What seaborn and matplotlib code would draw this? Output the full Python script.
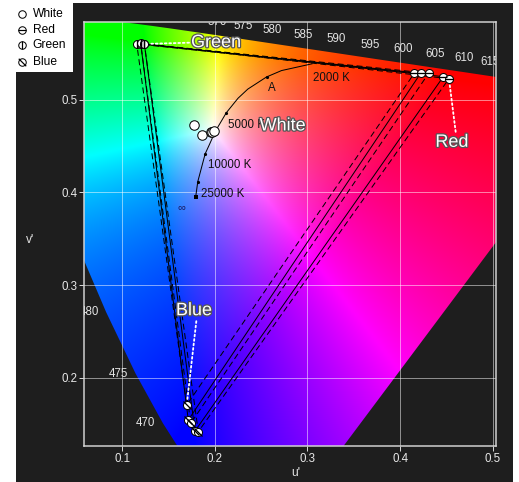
import numpy as np
import matplotlib
matplotlib.use("Agg")
import matplotlib.pyplot as plt
import seaborn as sns
from matplotlib.patches import Polygon, Rectangle
from matplotlib.lines import Line2D
from matplotlib.path import Path
import matplotlib.patheffects as pe

# ---------------- data ----------------
# CIE 1931 spectral locus (x, y chromaticity)
locus_nm = [380, 400, 420, 440, 450, 460, 465, 470, 475, 480, 485, 490, 495, 500,
            505, 510, 515, 520, 525, 530, 535, 540, 545, 550, 555, 560, 565, 570,
            575, 580, 585, 590, 595, 600, 605, 610, 615, 620, 630, 640, 650, 700]
locus_x = [0.1741, 0.1733, 0.1714, 0.1644, 0.1566, 0.1440, 0.1355, 0.1241, 0.1096,
           0.0913, 0.0687, 0.0454, 0.0235, 0.0082, 0.0039, 0.0139, 0.0389, 0.0743,
           0.1142, 0.1547, 0.1929, 0.2296, 0.2658, 0.3016, 0.3373, 0.3731, 0.4087,
           0.4441, 0.4788, 0.5125, 0.5448, 0.5752, 0.6029, 0.6270, 0.6482, 0.6658,
           0.6801, 0.6915, 0.7079, 0.7190, 0.7260, 0.7347]
locus_y = [0.0050, 0.0048, 0.0051, 0.0109, 0.0177, 0.0297, 0.0399, 0.0578, 0.0868,
           0.1327, 0.2007, 0.2950, 0.4127, 0.5384, 0.6548, 0.7502, 0.8120, 0.8338,
           0.8262, 0.8059, 0.7816, 0.7543, 0.7243, 0.6923, 0.6589, 0.6245, 0.5896,
           0.5547, 0.5202, 0.4866, 0.4544, 0.4242, 0.3965, 0.3725, 0.3514, 0.3340,
           0.3197, 0.3083, 0.2920, 0.2809, 0.2740, 0.2653]
label_nm = [470, 475, 480, 570, 575, 580, 585, 590, 595, 600, 605, 610, 615]

# Planckian locus (u', v')
planck_T = [2000, 2500, 2856, 3500, 4000, 5000, 6500, 8000, 10000, 15000, 25000]
planck_u = [0.3050, 0.2721, 0.2559, 0.2357, 0.2252, 0.2125, 0.2005, 0.1946, 0.1897, 0.1817, 0.1795]
planck_v = [0.5386, 0.5313, 0.5244, 0.5113, 0.5015, 0.4858, 0.4655, 0.4522, 0.4415, 0.4114, 0.3953]
planck_dot_T = [2856, 5000, 10000, 15000]
planck_labels = {2000: "2000 K", 2856: "A", 5000: "5000 K", 10000: "10000 K", 25000: "25000 K"}

# measured primaries / white points (u', v') for five devices
red_u = [0.4153, 0.4222, 0.4308, 0.4466, 0.4527]
red_v = [0.5284, 0.5284, 0.5284, 0.5247, 0.5225]
green_u = [0.1159, 0.1202, 0.1202, 0.1241, 0.1241]
green_v = [0.5600, 0.5600, 0.5605, 0.5600, 0.5600]
blue_u = [0.1698, 0.1715, 0.1741, 0.1787, 0.1823]
blue_v = [0.1706, 0.1544, 0.1508, 0.1425, 0.1418]
white_u = [0.1777, 0.1860, 0.1957, 0.1976, 0.1992]
white_v = [0.4726, 0.4618, 0.4647, 0.4650, 0.4665]
series_names = ["White", "Red", "Green", "Blue"]

# ---------------- layout ----------------
W, H = 519, 482
plt.rcParams["font.family"] = ["Liberation Sans", "DejaVu Sans"]
fig = plt.figure(figsize=(W / 72, H / 72), dpi=72, facecolor="white")
fig.patches.append(Rectangle((16 / W, 0), 497 / W, 479 / H, transform=fig.transFigure,
                             facecolor="#1e1e1e", edgecolor="none", zorder=-10))
fig.patches.append(Rectangle((16 / W, 1 - 72 / H), 57 / W, 72 / H, transform=fig.transFigure,
                             facecolor="white", edgecolor="none", zorder=-5))

L, R, T, B = 84.3, 496.5, 21.7, 445.7
ax = fig.add_axes([L / W, (H - B) / H, (R - L) / W, (B - T) / H])
ax.set_facecolor("#1e1e1e")
XL = (0.0593, 0.5040)
YL = (0.1267, 0.5840)
ax.set_xlim(*XL)
ax.set_ylim(*YL)

# locus in u'v'
lx = np.array(locus_x); ly = np.array(locus_y)
den = -2 * lx + 12 * ly + 3
loc_u = 4 * lx / den
loc_v = 9 * ly / den

# colour background
gu = np.linspace(XL[0], XL[1], 600)
gv = np.linspace(YL[0], YL[1], 620)
U, V = np.meshgrid(gu, gv)
d = 6 * U - 16 * V + 12
cx = 9 * U / d
cy = 4 * V / d
XYZ = np.stack([cx / cy, np.ones_like(cx), (1 - cx - cy) / cy], axis=-1)
M = np.array([[3.2406, -1.5372, -0.4986], [-0.9689, 1.8758, 0.0415], [0.0557, -0.2040, 1.0570]])
rgb = XYZ @ M.T
rgb = np.clip(rgb, 0, None)
rgb = rgb / rgb.max(axis=-1, keepdims=True)
rgb = np.power(rgb, 0.8)
im = ax.imshow(rgb, extent=[XL[0], XL[1], YL[0], YL[1]], origin="lower", aspect="auto",
               interpolation="bilinear", zorder=0)
poly = Polygon(np.column_stack([loc_u, loc_v]), closed=True, transform=ax.transData,
               facecolor="none", edgecolor="none")
im.set_clip_path(poly)

# grid / spines / ticks
ax.set_xticks([0.1, 0.2, 0.3, 0.4, 0.5])
ax.set_yticks([0.2, 0.3, 0.4, 0.5])
ax.set_xticklabels(["0.1", "0.2", "0.3", "0.4", "0.5"])
ax.set_yticklabels(["0.2", "0.3", "0.4", "0.5"])
ax.grid(True, color="white", alpha=0.5, lw=1)
ax.set_axisbelow(True)
for s in ax.spines.values():
    s.set_color("#d4d4d4")
    s.set_linewidth(1.5)
ax.tick_params(colors="#d4d4d4", labelcolor="#e8e8e8", labelsize=11.5, length=5, width=1, pad=2)

# spectral wavelength labels
for nm in label_nm:
    i = locus_nm.index(nm)
    off = (-17, 0) if nm < 500 else (0, 13.7)
    ax.annotate(str(nm), xy=(loc_u[i], loc_v[i]), xytext=off, textcoords="offset points",
                ha="center", va="center", fontsize=11.5, color="#e4e4e4", clip_on=True,
                annotation_clip=False, zorder=2)

# gamut triangles
styles = [(0, (6, 3.5)), "-", (0, (6, 3.5)), "-", (0, (6, 3.5))]
for i in range(len(red_u)):
    tu = [red_u[i], green_u[i], blue_u[i], red_u[i]]
    tv = [red_v[i], green_v[i], blue_v[i], red_v[i]]
    sns.lineplot(x=tu, y=tv, sort=False, estimator=None, ax=ax, color="black",
                 lw=1, linestyle=styles[i], zorder=3)

# Planckian locus
sns.lineplot(x=planck_u, y=planck_v, sort=False, estimator=None, ax=ax, color="black", lw=1, zorder=3)
di = [planck_T.index(t) for t in planck_dot_T]
sns.scatterplot(x=[planck_u[i] for i in di], y=[planck_v[i] for i in di], ax=ax,
                color="black", s=10, marker="o", linewidth=0, zorder=4)
sns.scatterplot(x=[planck_u[-1]], y=[planck_v[-1]], ax=ax, color="black", s=12, marker="s",
                linewidth=0, zorder=4)
offs = {2000: (1.3, -14.3), 2856: (1.5, -11.3), 5000: (2, -12), 10000: (3.3, -11.6), 25000: (5, 2.4)}
for t, lab in planck_labels.items():
    i = planck_T.index(t)
    ax.annotate(lab, xy=(planck_u[i], planck_v[i]), xytext=offs[t], textcoords="offset points",
                ha="left", va="center", fontsize=11.5, color="#111111", zorder=4)
ax.annotate("\u221e", xy=(planck_u[-1], planck_v[-1]), xytext=(-14, -10), textcoords="offset points",
            ha="center", va="center", fontsize=11, color="#1a1a60", zorder=4)

# points
diag = Path([(-0.7, 0.7), (0.7, -0.7)], [Path.MOVETO, Path.LINETO])
point_sets = [(white_u, white_v, None, 90), (red_u, red_v, "_", 64),
              (green_u, green_v, "|", 64), (blue_u, blue_v, diag, 64)]
for pu, pv, over, sz in point_sets:
    sns.scatterplot(x=pu, y=pv, ax=ax, marker="o", s=sz, color="white", edgecolor="black",
                    linewidth=1, zorder=5)
    if over is not None:
        ax.scatter(pu, pv, marker=over, s=sz, color="black", linewidths=1.3, zorder=6)

# callout labels
eff = [pe.withStroke(linewidth=2.5, foreground="#555555")]
callouts = [("Green", (green_u[-1], green_v[-1]), (71.7, 1.3), (0, 0.5), True),
            ("Red", (red_u[-1], red_v[-1]), (3, -63.6), (0.62, 1.0), True),
            ("Blue", (blue_u[0], blue_v[0]), (7.3, 94.3), (0.57, 0.0), True),
            ("White", (white_u[-1], white_v[-1]), (68.7, 4.7), (0, 0.5), False)]
for txt, xy, off, rp, arrow in callouts:
    ap = dict(arrowstyle="-", linestyle=(0, (1, 1.5)), color="white", lw=1.8,
              shrinkA=0, shrinkB=5, relpos=rp) if arrow else None
    t = ax.annotate(txt, xy=xy, xytext=off, textcoords="offset points", ha="center", va="center",
                    fontsize=18, color="white", zorder=7, arrowprops=ap)
    t.set_path_effects(eff)
    if arrow:
        t.arrow_patch.set_zorder(6.5)

ax.set_xlabel("")
ax.set_ylabel("")
fig.text(296 / W, 1 - 473 / H, "u'", ha="center", va="center", fontsize=12, color="#e4e4e4")
fig.text(30 / W, 1 - 240 / H, "v'", ha="center", va="center", fontsize=12, color="#e4e4e4")

# legend (manual, top-left white box)
rows_y = [14, 30, 45.3, 61.7]
overs = [None, "_", "|", diag]
for name, yy, over in zip(series_names, rows_y, overs):
    fy = 1 - yy / H
    fig.add_artist(Line2D([21.7 / W], [fy], transform=fig.transFigure, marker="o", ms=7.5,
                          mfc="white", mec="black", mew=1, ls="none"))
    if over is not None:
        fig.add_artist(Line2D([21.7 / W], [fy], transform=fig.transFigure, marker=over, ms=7.5,
                              mec="black", mew=1.2, ls="none"))
    fig.text(32.7 / W, fy, name, ha="left", va="center", fontsize=12, color="black")

fig.savefig("out.png", dpi=72, facecolor="white")
